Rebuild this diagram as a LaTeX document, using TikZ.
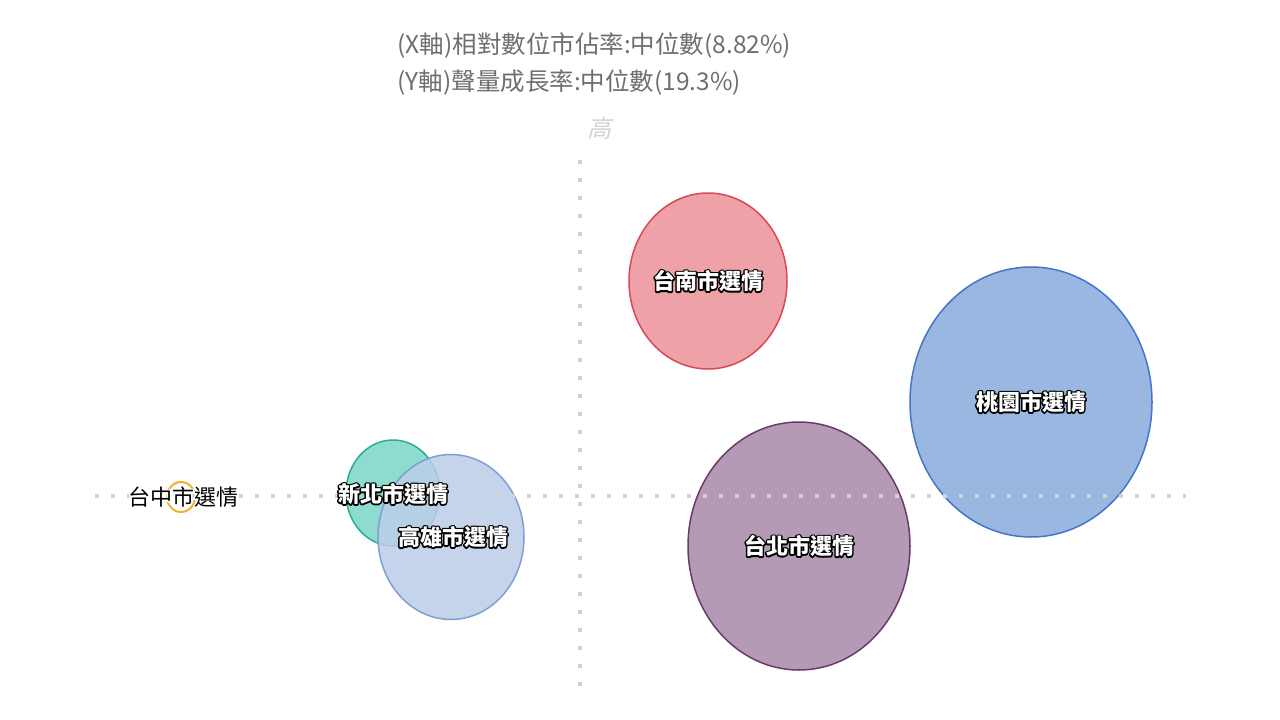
\documentclass[tikz,border=0pt]{standalone}
\usepackage{fontspec}
\setmainfont{Noto Sans CJK TC}
\usetikzlibrary{shapes.geometric}

\definecolor{axisgray}{HTML}{D2D2D2}
\definecolor{titlegray}{HTML}{6E6E6E}
\definecolor{tnfill}{HTML}{EFA1A8}
\definecolor{tndraw}{HTML}{D9475A}
\definecolor{tyfill}{HTML}{9AB7E2}
\definecolor{tydraw}{HTML}{4575C8}
\definecolor{tpfill}{HTML}{B49AB4}
\definecolor{tpdraw}{HTML}{6A3A6A}
\definecolor{ntfill}{HTML}{8EDBCF}
\definecolor{ntdraw}{HTML}{2AAE94}
\definecolor{ksfill}{HTML}{BCCDE8}
\definecolor{ksdraw}{HTML}{7D9FD5}
\definecolor{tcdraw}{HTML}{F2B12D}

% haloed text: halo grey level, halo width, text
\newcommand{\halo}[3]{%
  \rlap{\special{pdf:literal direct 1 Tr #2 w 1 j #1 G}#3\special{pdf:literal direct 0 Tr}}#3}

\begin{document}
\begin{tikzpicture}[
        x=1pt, y=-1pt,
        bubble/.style={ellipse,draw,line width=1.5pt,inner sep=0pt},
        city/.style={font=\bfseries\fontsize{22}{22}\selectfont,inner sep=0pt,text=white},
        dots/.style={axisgray,line width=4pt,dash pattern=on 4pt off #1}
    ]
        \useasboundingbox (0,0) rectangle (1280,720);

        % bubbles
        \node [bubble,fill=tnfill,draw=tndraw,minimum width=158pt,minimum height=176pt] (tn) at (708,281) {};
        \node [bubble,fill=tyfill,draw=tydraw,minimum width=242pt,minimum height=270pt] (ty) at (1031,402) {};
        \node [bubble,fill=tpfill,draw=tpdraw,minimum width=222pt,minimum height=248pt] (tp) at (799,546) {};
        \node [bubble,fill=ntfill,draw=ntdraw,minimum width=94pt,minimum height=106pt] (nt) at (393,493) {};
        \node [bubble,fill=ksfill,draw=ksdraw,fill opacity=0.85,minimum width=146pt,minimum height=165pt] (ks) at (451,537) {};
        \node [bubble,draw=tcdraw,line width=2pt,minimum width=28pt,minimum height=30pt] (tc) at (181,497) {};

        % quadrant axes
        \draw [dots=12pt] (95,496) -- (1186,496);
        \draw [dots=14pt] (580,160) -- (580,686);

        % titles
        \node [anchor=west,text=titlegray,font=\fontsize{24.5}{24.5}\selectfont] (xt) at (394,46) {(X軸)相對數位市佔率:中位數(8.82\%)};
        \node [anchor=west,text=titlegray,font=\fontsize{24.5}{24.5}\selectfont] (yt) at (394,83) {(Y軸)聲量成長率:中位數(19.3\%)};
        \node [text=axisgray,font=\fontsize{24}{24}\selectfont,transform shape,xslant=0.25] (hi) at (602,128) {高};

        % labels
        \node [city] (tnl) at (tn) {\halo{0}{3}{台南市選情}};
        \node [city] (tyl) at (ty) {\halo{0}{3}{桃園市選情}};
        \node [city] (tpl) at (tp) {\halo{0}{3}{台北市選情}};
        \node [city] (ntl) at (393,494) {\halo{0}{3}{新北市選情}};
        \node [city] (ksl) at (453,537) {\halo{0}{3}{高雄市選情}};
        \node [city,text=black,font=\fontsize{22}{22}\selectfont] (tcl) at (183,497) {\halo{1}{3}{台中市選情}};
    \end{tikzpicture}
\end{document}
